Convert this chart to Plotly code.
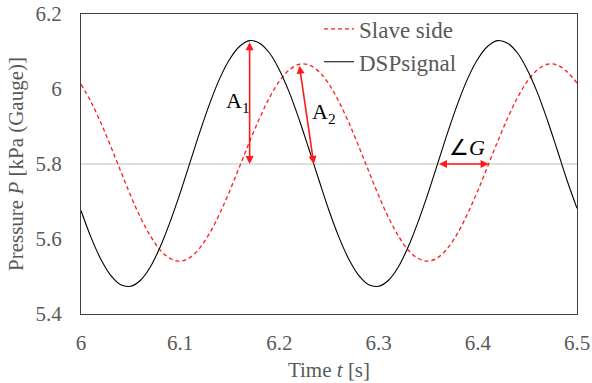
import numpy as np
import plotly.graph_objects as go

# Time samples [s]
time_s = [round(6 + 0.01 * k, 2) for k in range(51)]

# DSP signal (black) [kPa]
dsp_signal = [5.676, 5.605, 5.546, 5.503, 5.478, 5.474, 5.490, 5.526, 5.580, 5.647,
              5.723, 5.805, 5.887, 5.963, 6.029, 6.080, 6.114, 6.129, 6.122, 6.096,
              6.051, 5.991, 5.918, 5.838, 5.756,
              5.676, 5.605, 5.546, 5.503, 5.478, 5.474, 5.490, 5.526, 5.580, 5.647,
              5.723, 5.805, 5.887, 5.963, 6.029, 6.080, 6.114, 6.129, 6.122, 6.096,
              6.051, 5.991, 5.918, 5.838, 5.756, 5.682]

# Slave side (red dashed) [kPa]
slave_side = [6.013, 5.966, 5.910, 5.847, 5.781, 5.716, 5.657, 5.608, 5.570, 5.548,
              5.541, 5.551, 5.577, 5.617, 5.669, 5.729, 5.794, 5.860, 5.922, 5.977,
              6.021, 6.051, 6.066, 6.064, 6.046,
              6.013, 5.966, 5.910, 5.847, 5.781, 5.716, 5.657, 5.608, 5.570, 5.548,
              5.541, 5.551, 5.577, 5.617, 5.669, 5.729, 5.794, 5.860, 5.922, 5.977,
              6.021, 6.051, 6.066, 6.064, 6.046, 6.016]

x_ticks = [6, 6.1, 6.2, 6.3, 6.4, 6.5]
x_tick_text = ["6", "6.1", "6.2", "6.3", "6.4", "6.5"]
y_ticks = [5.4, 5.6, 5.8, 6.0, 6.2]
y_tick_text = ["5.4", "5.6", "5.8", "6", "6.2"]
ref_level = 5.8

t = np.array(time_s)
d = np.array(dsp_signal)
s = np.array(slave_side)

# peaks used for amplitude arrows (first cycle)
i1 = int(np.argmax(d[:25]))
i2 = int(np.argmax(s[:25]))


def crossing(y, start, rising=True):
    for k in range(start, len(y) - 1):
        a, b = y[k], y[k + 1]
        if (rising and a < ref_level <= b) or (not rising and a > ref_level >= b):
            return t[k] + (ref_level - a) / (b - a) * (t[k + 1] - t[k])
    return None


g0 = crossing(d, 30, True)
g1 = crossing(s, 30, True)
a2_bottom = crossing(d, 18, False)  # falling crossing of DSP

FONT = "Liberation Serif"
GRAY = "#595959"
RED = "#FF1A1A"

fig = go.Figure()
fig.add_trace(go.Scatter(x=time_s, y=slave_side, mode="lines", name="Slave side",
                         line=dict(color=RED, width=1.3, dash="4px,3px", shape="spline")))
fig.add_trace(go.Scatter(x=time_s, y=dsp_signal, mode="lines", name="DSPsignal",
                         line=dict(color="black", width=1.1, shape="spline")))

fig.add_shape(type="line", xref="paper", x0=0, x1=1, yref="y", y0=ref_level, y1=ref_level,
              line=dict(color="#BFBFBF", width=1), layer="below")

arrow_common = dict(xref="x", yref="y", axref="x", ayref="y", text="", showarrow=True,
                    arrowhead=2, arrowside="end+start", arrowsize=1, arrowwidth=1.6,
                    arrowcolor=RED, standoff=0, startstandoff=0)
fig.add_annotation(x=t[i1], y=ref_level, ax=t[i1], ay=d[i1], **arrow_common)
fig.add_annotation(x=a2_bottom, y=ref_level, ax=t[i2], ay=s[i2], **arrow_common)
fig.add_annotation(x=g1, y=ref_level, ax=g0, ay=ref_level, **arrow_common)

lab = dict(xref="x", yref="y", showarrow=False, font=dict(family=FONT, size=22, color="black"))
fig.add_annotation(x=6.158, y=5.965, text="A<sub>1</sub>", **lab)
fig.add_annotation(x=6.245, y=5.936, text="A<sub>2</sub>", **lab)
fig.add_annotation(x=6.389, y=5.843, text="∠<i>G</i>", **lab)

fig.update_layout(
    width=592, height=383,
    margin=dict(l=81, r=15, t=14, b=69, autoexpand=False),
    paper_bgcolor="white", plot_bgcolor="white",
    font=dict(family=FONT, size=21, color=GRAY),
    showlegend=True,
    legend=dict(x=(319 - 81) / 496, y=1.022, xanchor="left", yanchor="top",
                bgcolor="rgba(0,0,0,0)", font=dict(family=FONT, size=23, color=GRAY),
                itemwidth=30, tracegroupgap=0),
    xaxis=dict(range=[6, 6.5], tickvals=x_ticks, ticktext=x_tick_text, showgrid=False,
               zeroline=False, showline=True, linecolor="#404040", linewidth=1, mirror=True,
               ticks="", ticklabelstandoff=10, automargin=False, tickfont=dict(size=21),
               title=dict(text="Time <i>t</i> [s]", standoff=8, font=dict(size=21, color=GRAY))),
    yaxis=dict(range=[5.4, 6.2], tickvals=y_ticks, ticktext=y_tick_text, showgrid=False,
               zeroline=False, showline=True, linecolor="#404040", linewidth=1, mirror=True,
               ticks="", ticklabelstandoff=14, automargin=False, tickfont=dict(size=21),
               title=dict(text="Pressure <i>P</i> [kPa (Gauge)]", standoff=6,
                          font=dict(size=21, color=GRAY))),
)

fig.write_html("out.html")
